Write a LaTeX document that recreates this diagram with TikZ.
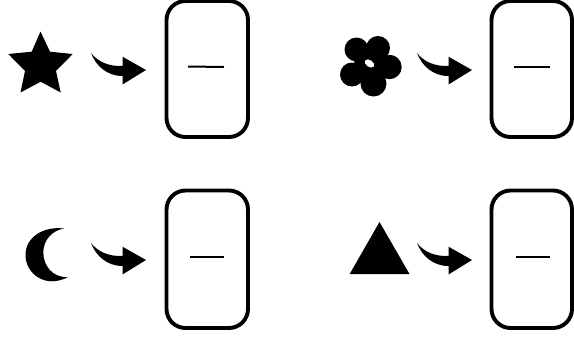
\documentclass[tikz,border=0pt]{standalone}
\tikzset{
  x=1pt,y=-1pt,
  answerbox/.style={draw=black,line width=3.9pt,rounded corners=19pt,fill=white},
  blank/.style={line width=1.7pt,black},
  shapefill/.style={fill=black,draw=none},
  bentarrow/.pic={
    \fill[black] (0,0) .. controls (7,9) and (18,13.5) .. (31.5,13)
      -- (31.5,3.7) -- (55,17) -- (31.5,31.5) -- (31.5,23)
      .. controls (16,23) and (5,13) .. (0,0) -- cycle;
  }
}
\begin{document}
\begin{tikzpicture}
\useasboundingbox (0,0) rectangle (574,340);
% boxes
\draw[answerbox] (166.5,1) rectangle (248,137);
\draw[answerbox] (491.5,1) rectangle (572,137);
\draw[answerbox] (166.5,190.5) rectangle (248,328);
\draw[answerbox] (491.5,190.5) rectangle (572,328);
% blanks
\draw[blank,line width=2pt] (188,66.5) -- (224,67);
\draw[blank] (514,67) -- (550,67);
\draw[blank] (190,257.2) -- (224,257.2);
\draw[blank] (516,257.2) -- (550,257.2);
% arrows
\pic at (91,53) {bentarrow};
\pic at (417,53) {bentarrow};
\pic at (91,243) {bentarrow};
\pic at (417,243) {bentarrow};
% star
\fill[shapefill] (40.5,31.5) -- (50,51.7) -- (72.7,54) -- (56,71) -- (60.7,92.5) -- (40.7,81.7) -- (20.5,92.5) -- (25,71) -- (8.3,54) -- (31.7,51.7) -- cycle;
% flower
\fill[shapefill] (356.5,49.5) circle[radius=12];
\fill[shapefill] (378,48) circle[radius=12];
\fill[shapefill] (389.5,67) circle[radius=12.2];
\fill[shapefill] (373.5,83.5) circle[radius=13];
\fill[shapefill] (352,74.5) circle[radius=12];
\fill[shapefill] (370,65) circle[radius=16];
\fill[white,rotate around={-35:(369.5,63.5)}] (369.5,63.5) ellipse[x radius=5.2,y radius=3.4];
% moon
\fill[shapefill] (64,228.5) .. controls (42,226) and (25.5,238) .. (25.5,255)
  .. controls (25.5,274) and (46,289) .. (68,277)
  .. controls (52,278) and (43.3,265) .. (43.3,252.5)
  .. controls (43.3,240) and (52,230.5) .. (64,228.5) -- cycle;
% triangle
\fill[shapefill] (379.5,222) -- (409.5,274) -- (349.7,274) -- cycle;
\end{tikzpicture}
\end{document}
